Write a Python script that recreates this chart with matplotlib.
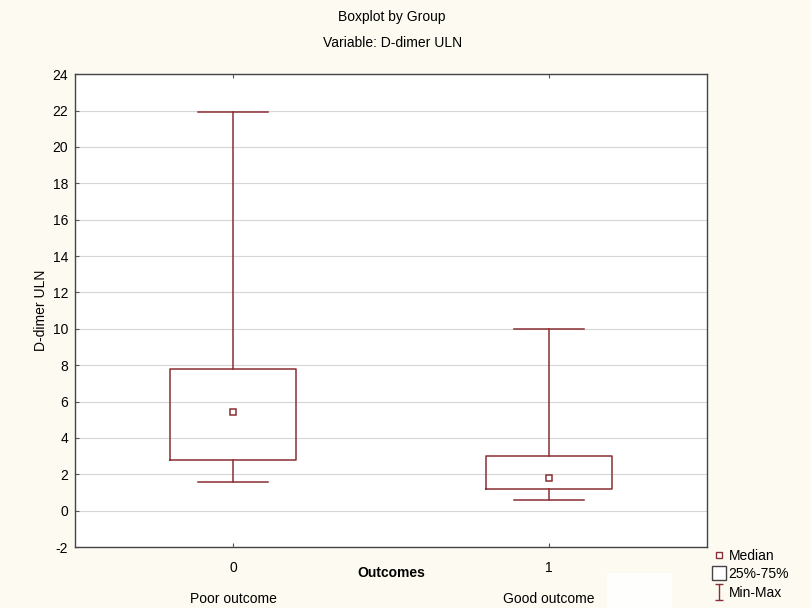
import matplotlib
matplotlib.use('Agg')
import matplotlib.pyplot as plt
from matplotlib.lines import Line2D
from matplotlib.path import Path
from matplotlib.patches import Rectangle

plt.rcParams['font.family'] = ['Liberation Sans', 'DejaVu Sans']
plt.rcParams['axes.unicode_minus'] = False

groups = ['Poor outcome', 'Good outcome']
codes = ['0', '1']
medians = [5.4, 1.8]
q1s = [2.8, 1.2]
q3s = [7.8, 3.0]
mins = [1.6, 0.6]
maxs = [21.9, 10.0]

edge = '#8a2f33'
bg = '#fdfbf1'

fig = plt.figure(figsize=(8.12, 6.08), dpi=100, facecolor=bg)
ax = fig.add_axes([0.0924, 0.1003, 0.7783, 0.7777])
ax.set_facecolor('white')

stats = []
for i in range(len(groups)):
    stats.append({'med': medians[i], 'q1': q1s[i], 'q3': q3s[i],
                  'whislo': mins[i], 'whishi': maxs[i], 'fliers': []})

ax.bxp(stats, positions=[0, 1], widths=0.4, showfliers=False,
       boxprops=dict(color=edge, lw=1.1),
       whiskerprops=dict(color=edge, lw=1.1),
       capprops=dict(color=edge, lw=1.1),
       medianprops=dict(lw=0, color=edge),
       capwidths=0.22, manage_ticks=False)
ax.plot([0, 1], medians, ls='none', marker='s', ms=4.5, mfc='white',
        mec=edge, mew=1.1, zorder=5)

ax.set_xlim(-0.5, 1.5)
ax.set_ylim(-2, 24)
ax.set_yticks(range(-2, 25, 2))
ax.set_xticks([0, 1])
ax.set_xticklabels(codes)
ax.yaxis.grid(True, color='#d6d6d6', lw=0.8)
ax.set_axisbelow(True)
ax.tick_params(direction='in', length=3, labelsize=10, color='#555555',
               top=True, pad=5)
ax.tick_params(axis='x', pad=10)
for s in ax.spines.values():
    s.set_color('#444444')
    s.set_linewidth(1.0)

ax.set_ylabel('D-dimer ULN', fontsize=10, labelpad=3)
ax.text(0.5, -0.04, 'Outcomes', transform=ax.transAxes, ha='center',
        va='top', fontsize=10, fontweight='bold')
for i, g in enumerate(groups):
    ax.text(i, -0.095, g, transform=ax.get_xaxis_transform(), ha='center',
            va='top', fontsize=10)

fig.text(0.483, 0.972, 'Boxplot by Group', ha='center', va='center', fontsize=10)
fig.text(0.483, 0.93, 'Variable: D-dimer ULN', ha='center', va='center', fontsize=10)

# legend: median / box / min-max
ibeam = Path([(-0.5, 1), (0.5, 1), (0, 1), (0, -1), (-0.5, -1), (0.5, -1)],
             [Path.MOVETO, Path.LINETO, Path.MOVETO, Path.LINETO,
              Path.MOVETO, Path.LINETO])
handles = [
    Line2D([], [], ls='none', marker='s', ms=4, mfc='white', mec=edge, mew=1),
    Line2D([], [], ls='none', marker='s', ms=10, mfc='white', mec='#444444', mew=1),
    Line2D([], [], ls='none', marker=ibeam, ms=11, mec=edge, mew=1),
]
fig.legend(handles, ['Median', '25%-75%', 'Min-Max'], loc='lower left',
           bbox_to_anchor=(0.868, 0.0), frameon=False, fontsize=10,
           handlelength=0.8, handletextpad=0.3, labelspacing=0.33,
           borderaxespad=0.2)

fig.patches.append(Rectangle((0.748, 0.0), 0.08, 0.057, transform=fig.transFigure,
                             facecolor='white', edgecolor='none', alpha=0.8,
                             zorder=0))

fig.savefig('out.png', dpi=100, facecolor=bg)
